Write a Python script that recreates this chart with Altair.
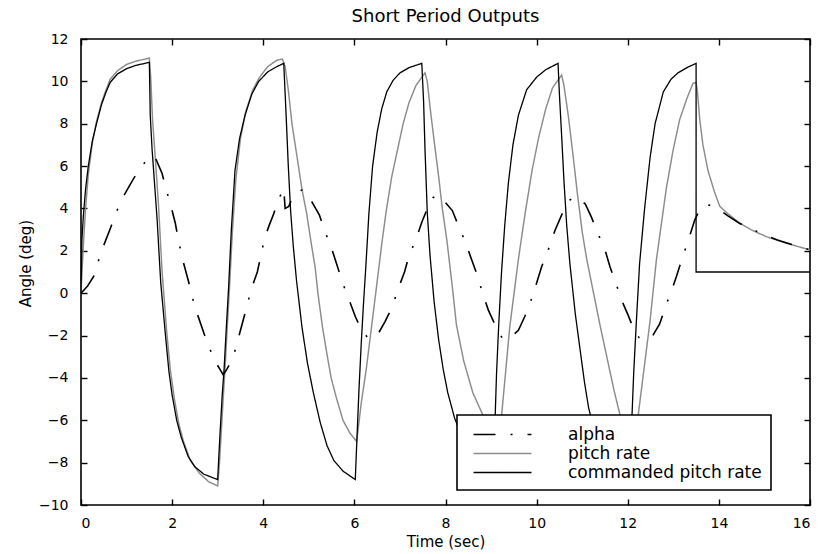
import altair as alt
import pandas as pd

# ---------------------------------------------------------------- data ----
alpha_t = [0.0, 0.15, 0.28, 0.37, 0.48, 0.66, 0.77, 0.9, 1.15, 1.34, 1.48, 1.56, 1.65, 1.78, 1.87,
           1.97, 2.07, 2.14, 2.21, 2.36, 2.43, 2.54, 2.7, 2.8, 2.94, 3.05, 3.12, 3.2, 3.33, 3.42,
           3.55, 3.65, 3.73, 3.87, 3.95, 4.03, 4.13, 4.23, 4.31, 4.45, 4.48, 4.56, 4.65, 4.75, 4.85,
           4.95, 5.07, 5.23, 5.34, 5.51, 5.63, 5.73, 5.9, 6.02, 6.16, 6.3, 6.42, 6.5, 6.67, 6.82,
           6.97, 7.1, 7.19, 7.37, 7.48, 7.62, 7.72, 7.82, 7.95, 8.15, 8.28, 8.43, 8.57, 8.68, 8.83,
           8.94, 9.09, 9.25, 9.42, 9.6, 9.74, 9.91, 10.01, 10.11, 10.21, 10.3, 10.4, 10.55, 10.73, 10.85,
           10.95, 11.07, 11.2, 11.35, 11.5, 11.61, 11.75, 11.88, 12.01, 12.15, 12.25, 12.4, 12.55, 12.7, 12.85,
           12.96, 13.07, 13.18, 13.33, 13.47, 13.58, 13.69, 13.8, 14.0, 14.2, 14.45, 14.75, 15.0, 15.3, 15.6,
           16.0]
alpha_v = [0.0, 0.35, 0.8, 1.45, 2.15, 3.15, 3.8, 4.45, 5.4, 6.0, 6.4, 6.5, 6.3, 5.65, 4.9,
           4.15, 3.3, 2.5, 1.75, 0.55, -0.1, -0.9, -1.9, -2.5, -3.2, -3.6, -3.85, -3.6, -3.1, -2.4,
           -1.35, -0.55, 0.15, 1.0, 1.8, 2.6, 3.2, 3.75, 4.3, 4.95, 4.0, 4.1, 4.55, 4.8, 4.87,
           4.75, 4.3, 3.7, 3.0, 2.05, 1.25, 0.55, -0.4, -1.1, -1.75, -2.12, -2.1, -2.0, -1.35, -0.7,
           0.25, 1.0, 1.7, 2.65, 3.35, 4.1, 4.5, 4.64, 4.4, 3.9, 3.2, 2.45, 1.6, 0.95, -0.1,
           -0.8, -1.5, -2.15, -2.1, -1.75, -1.1, -0.15, 0.55, 1.25, 1.8, 2.3, 2.95, 3.7, 4.4, 4.55,
           4.45, 4.2, 3.6, 2.8, 2.05, 1.25, 0.4, -0.4, -1.05, -1.8, -2.1, -2.2, -2.0, -1.45, -0.5,
           0.1, 0.8, 1.55, 2.5, 3.45, 3.95, 4.17, 4.15, 3.95, 3.65, 3.3, 3.0, 2.75, 2.5, 2.3,
           2.05]

pitch_t = [0.0, 0.05, 0.1, 0.16, 0.25, 0.34, 0.45, 0.55, 0.64, 0.8, 1.0, 1.2, 1.4, 1.5, 1.53,
           1.57, 1.63, 1.7, 1.78, 1.88, 1.96, 2.05, 2.15, 2.25, 2.4, 2.6, 2.8, 3.0, 3.04, 3.08,
           3.12, 3.16, 3.2, 3.26, 3.32, 3.4, 3.5, 3.62, 3.77, 3.92, 4.1, 4.3, 4.42, 4.48, 4.55,
           4.63, 4.73, 4.85, 4.95, 5.05, 5.14, 5.2, 5.3, 5.4, 5.49, 5.6, 5.75, 5.9, 6.05, 6.08,
           6.15, 6.26, 6.37, 6.48, 6.6, 6.7, 6.82, 6.93, 7.07, 7.2, 7.35, 7.55, 7.6, 7.66, 7.75,
           7.85, 7.93, 8.03, 8.15, 8.24, 8.4, 8.6, 8.83, 9.0, 9.15, 9.23, 9.41, 9.6, 9.75, 9.9,
           10.05, 10.2, 10.35, 10.55, 10.6, 10.7, 10.8, 10.9, 11.0, 11.1, 11.25, 11.4, 11.55, 11.7, 11.83,
           12.0, 12.15, 12.23, 12.49, 12.63, 12.85, 13.0, 13.14, 13.3, 13.43, 13.5, 13.53, 13.58, 13.65, 13.76,
           13.9, 14.02, 14.2, 14.46, 14.7, 15.04, 15.5, 16.0]
pitch_v = [0.0, 2.2, 4.0, 5.6, 7.1, 8.1, 9.0, 9.6, 10.1, 10.5, 10.8, 10.95, 11.05, 11.1, 10.2,
           8.2, 6.4, 4.2, 1.0, -1.8, -3.6, -5.0, -6.2, -7.0, -7.9, -8.5, -8.9, -9.1, -8.0, -6.5,
           -5.0, -3.6, -2.0, 0.3, 2.8, 5.4, 7.3, 8.6, 9.6, 10.2, 10.7, 11.0, 11.05, 10.7, 9.6,
           8.0, 6.6, 4.9, 3.8, 2.4, 1.2, 0.0, -1.6, -2.9, -4.0, -4.9, -6.0, -6.6, -7.0, -6.5,
           -5.2, -3.6, -1.7, 0.2, 2.3, 3.9, 5.5, 6.6, 8.0, 9.0, 9.8, 10.4, 10.0, 8.8, 7.2,
           5.5, 4.0, 2.5, 0.3, -1.5, -3.2, -4.7, -5.8, -6.5, -6.8, -5.8, -1.6, 1.6, 3.8, 5.8,
           7.4, 8.7, 9.7, 10.3, 9.8, 8.3, 6.5, 4.6, 2.9, 1.6, 0.0, -1.6, -3.1, -4.6, -5.75,
           -6.5, -6.8, -5.75, -1.3, 1.6, 5.0, 6.8, 8.2, 9.2, 9.9, 9.95, 9.5, 8.2, 7.0, 5.8,
           4.8, 4.1, 3.75, 3.3, 3.0, 2.67, 2.35, 2.04]

cmd_t = [0.0, 0.02, 0.05, 0.1, 0.16, 0.25, 0.34, 0.45, 0.55, 0.64, 0.8, 1.0, 1.2, 1.5, 1.52,
         1.56, 1.6, 1.67, 1.75, 1.85, 1.93, 2.0, 2.1, 2.2, 2.35, 2.5, 2.7, 3.0, 3.03, 3.06,
         3.1, 3.14, 3.18, 3.24, 3.3, 3.38, 3.48, 3.6, 3.75, 3.9, 4.1, 4.3, 4.45, 4.5, 4.55,
         4.6, 4.66, 4.73, 4.85, 4.97, 5.1, 5.25, 5.4, 5.55, 5.75, 6.02, 6.05, 6.1, 6.15, 6.2,
         6.25, 6.32, 6.4, 6.5, 6.6, 6.71, 6.85, 7.0, 7.2, 7.48, 7.52, 7.55, 7.6, 7.66, 7.75,
         7.85, 7.95, 8.05, 8.2, 8.4, 8.6, 8.8, 9.05, 9.08, 9.12, 9.17, 9.23, 9.3, 9.38, 9.48,
         9.6, 9.78, 10.0, 10.2, 10.47, 10.5, 10.55, 10.6, 10.66, 10.73, 10.85, 10.95, 11.05, 11.14, 11.3,
         11.5, 11.75, 12.05, 12.08, 12.13, 12.19, 12.26, 12.37, 12.49, 12.6, 12.78, 12.95, 13.1, 13.3, 13.5,
         13.5, 16.0]
cmd_v = [0.0, 2.5, 3.6, 4.9, 6.0, 7.2, 8.0, 8.9, 9.5, 9.95, 10.35, 10.6, 10.75, 10.9, 8.4,
         6.8, 5.6, 3.5, 0.5, -1.9, -3.7, -4.8, -6.0, -6.8, -7.7, -8.2, -8.55, -8.8, -7.5, -6.3,
         -4.8, -3.6, -2.0, 0.3, 3.0, 5.8, 7.3, 8.4, 9.4, 10.0, 10.45, 10.7, 10.85, 8.5, 6.0,
         3.9, 2.2, 0.6, -1.6, -3.3, -4.7, -6.1, -7.2, -7.9, -8.4, -8.8, -7.2, -4.6, -2.4, -0.5,
         1.2, 3.8, 6.0, 7.6, 8.7, 9.5, 10.05, 10.4, 10.65, 10.85, 9.0, 6.8, 3.8, 1.8, -0.4,
         -2.2, -3.6, -4.7, -5.9, -7.0, -7.8, -8.3, -8.8, -6.5, -3.8, -1.4, 1.0, 3.2, 5.2, 7.0,
         8.4, 9.6, 10.2, 10.55, 10.85, 9.4, 7.4, 5.3, 3.2, 1.4, -1.0, -2.6, -4.2, -5.4, -6.8,
         -7.8, -8.4, -8.8, -6.5, -3.8, -1.3, 1.4, 4.0, 6.4, 8.0, 9.5, 10.1, 10.4, 10.65, 10.85,
         1.0, 1.0]

series_names = ["alpha", "pitch rate", "commanded pitch rate"]
series_colors = ["#000000", "#8c8c8c", "#000000"]
series_dashes = [[22, 15, 2, 15], [1, 0], [1, 0]]
series_widths = [1.6, 1.3, 2.0]

x_ticks = [0, 2, 4, 6, 8, 10, 12, 14, 16]
y_ticks = [-10, -8, -6, -4, -2, 0, 2, 4, 6, 8, 10, 12]

# ------------------------------------------------------------- layout ----
W, H = 729, 466
FONT = "DejaVu Sans"

# gray trace first so the black traces sit on top of it
rows = []
for name, ts, vs in [("pitch rate", pitch_t, pitch_v),
                     ("commanded pitch rate", cmd_t, cmd_v),
                     ("alpha", alpha_t, alpha_v)]:
    for i, (t, v) in enumerate(zip(ts, vs)):
        rows.append({"series": name, "step": i, "time": t, "angle": v})
df = pd.DataFrame(rows)

x_scale = alt.Scale(domain=[0, 16], nice=False, zero=False)
y_scale = alt.Scale(domain=[-10, 12], nice=False, zero=False)

legend = alt.Legend(
    title=None, orient="none", legendX=376, legendY=376, direction="vertical",
    symbolType="M-3,0H3", symbolSize=373, symbolOffset=26,
    labelFont=FONT, labelFontSize=17, labelColor="black", labelOffset=55, labelLimit=0,
    padding=9, rowPadding=0, fillColor="white", strokeColor="black",
)

lines = alt.Chart(df).mark_line().encode(
    x=alt.X("time:Q", scale=x_scale, axis=alt.Axis(
        values=x_ticks, title="Time (sec)", ticks=False, tickSize=0, domain=False, grid=False,
        labelPadding=11, labelFontSize=14, labelFont=FONT, labelColor="black",
        titleFont=FONT, titleFontSize=15, titleFontWeight="normal", titleColor="black",
        titleX=W / 2, titleY=36, titleBaseline="middle", titleAlign="center")),
    y=alt.Y("angle:Q", scale=y_scale, axis=alt.Axis(
        values=y_ticks, title="Angle (deg)", ticks=False, tickSize=0, domain=False, grid=False,
        labelPadding=13, labelFontSize=14, labelFont=FONT, labelColor="black",
        titleFont=FONT, titleFontSize=15, titleFontWeight="normal", titleColor="black",
        titleX=-56, titleY=224, titleBaseline="middle", titleAlign="center", titleAngle=270)),
    color=alt.Color("series:N", scale=alt.Scale(domain=series_names, range=series_colors), legend=legend),
    strokeDash=alt.StrokeDash("series:N", scale=alt.Scale(domain=series_names, range=series_dashes), legend=legend),
    strokeWidth=alt.StrokeWidth("series:N", scale=alt.Scale(domain=series_names, range=series_widths), legend=legend),
    detail="series:N",
    order="step:Q",
)


def tick_axis(orient, offset, values):
    return alt.Axis(orient=orient, offset=offset, values=values, labels=False, title=None,
                    domain=False, grid=False, ticks=True, tickSize=6, tickWidth=1.4,
                    tickColor="black")


# inward ticks along the bottom and left edges
ticks_a = alt.Chart(df).mark_point(opacity=0).encode(
    x=alt.X("time:Q", scale=x_scale, axis=tick_axis("top", -H, x_ticks)),
    y=alt.Y("angle:Q", scale=y_scale, axis=tick_axis("right", -W, y_ticks)),
)
# inward ticks along the top and right edges
ticks_b = alt.Chart(df).mark_point(opacity=0).encode(
    x=alt.X("time:Q", scale=x_scale, axis=tick_axis("bottom", -H, x_ticks)),
    y=alt.Y("angle:Q", scale=y_scale, axis=tick_axis("left", -W, y_ticks)),
)

chart = alt.layer(lines, ticks_a, ticks_b).resolve_axis(
    x="independent", y="independent"
).properties(
    width=W, height=H,
    autosize=alt.AutoSizeParams(type="none"),
    padding={"left": 81, "top": 39, "right": 11, "bottom": 49},
    background="white",
    title=alt.TitleParams("Short Period Outputs", font=FONT, fontSize=18, fontWeight="normal",
                          color="black", anchor="middle", offset=6),
).configure_view(
    stroke="black", strokeWidth=1.6
).configure_legend(strokeWidth=1.6)

chart.save("out.html", embed_options={"renderer": "svg", "actions": False})
